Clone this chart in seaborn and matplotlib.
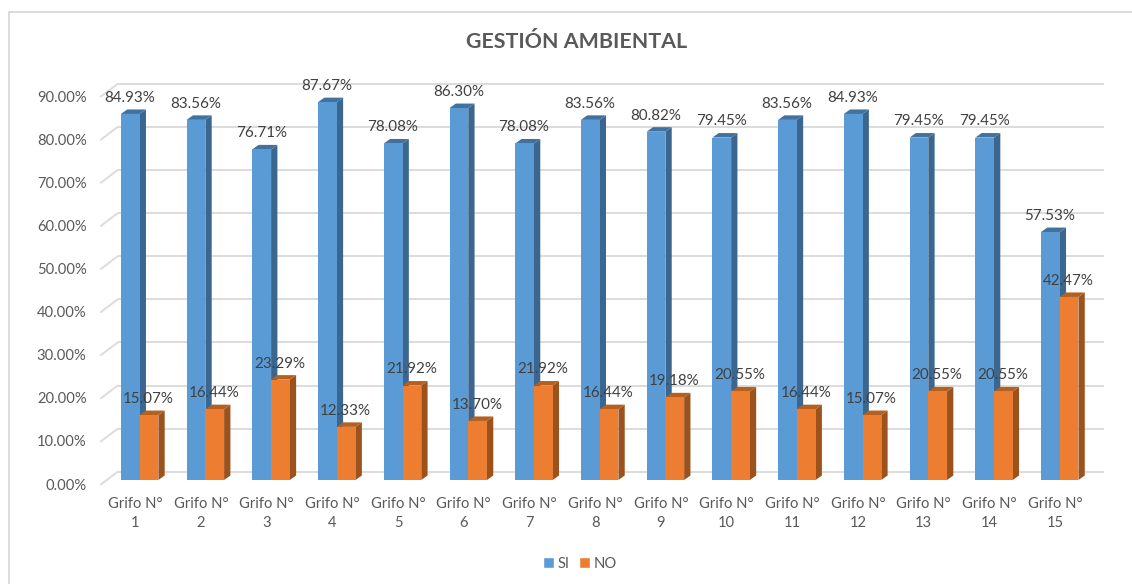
import matplotlib
matplotlib.use("Agg")
import matplotlib.pyplot as plt
import matplotlib.transforms as mtrans
from matplotlib.lines import Line2D
from matplotlib.patches import Polygon, Patch
import pandas as pd
import seaborn as sns

categories = [f"Grifo N°\n{i}" for i in range(1, 16)]
si_values = [84.93, 83.56, 76.71, 87.67, 78.08, 86.30, 78.08, 83.56, 80.82, 79.45, 83.56, 84.93, 79.45, 79.45, 57.53]
no_values = [15.07, 16.44, 23.29, 12.33, 21.92, 13.70, 21.92, 16.44, 19.18, 20.55, 16.44, 15.07, 20.55, 20.55, 42.47]
y_ticks = [0, 10, 20, 30, 40, 50, 60, 70, 80, 90]

W, H = 1132, 584
FONT = "Lato"
sns.set_theme(style="white")
plt.rcParams["font.family"] = [FONT, "DejaVu Sans"]

df = pd.DataFrame({
    "cat": categories * 2,
    "serie": ["SI"] * 15 + ["NO"] * 15,
    "val": si_values + no_values,
})

fig = plt.figure(figsize=(W / 100, H / 100), dpi=100, facecolor="white")
L, R, B, T = 106.8, 1092.6, 480.0, 92.1
ax = fig.add_axes([L / W, 1 - B / H, (R - L) / W, (B - T) / H])
ax.patch.set_alpha(0)

FRONT = {"SI": "#5b9bd5", "NO": "#ed7d31"}
TOP = {"SI": "#41719c", "NO": "#b5601f"}
SIDE = {"SI": "#3a6690", "NO": "#9b521d"}

sns.barplot(data=df, x="cat", y="val", hue="serie", palette=FRONT, hue_order=["SI", "NO"],
            width=0.57, gap=0, dodge=True, legend=False, saturation=1, ax=ax, linewidth=0)
ax.set_xlim(-0.5, 14.5)
ax.set_ylim(0, 90)
ax.set_xlabel("")
ax.set_ylabel("")
for s in ax.spines.values():
    s.set_visible(False)

px_x = 1 / 65.72       # data units per pixel horizontally
px_y = 90 / (B - T)    # data units per pixel vertically

# back wall and floor gridlines
GRID = "#dcdcdc"
for v in y_ticks:
    ax.plot([-0.5 + 11 * px_x, 14.5 + 11 * px_x], [v + 8.3 * px_y] * 2, color=GRID, lw=1.4,
            clip_on=False, zorder=1, solid_capstyle="butt")
    ax.plot([-0.5 - 6 * px_x, -0.5 + 11 * px_x], [v - 4.5 * px_y, v + 8.3 * px_y], color=GRID, lw=1.4,
            clip_on=False, zorder=1)

DX, DY = 6.3 * px_x, 4.5 * px_y
for k, (name, cont) in enumerate(zip(["SI", "NO"], ax.containers)):
    z = 2 + 2 * k
    for p in cont.patches:
        x0, x1, h = p.get_x(), p.get_x() + p.get_width(), p.get_height()
        p.set_zorder(z + 1)
        p.set_clip_on(False)
        ax.add_patch(Polygon([(x1, 0), (x1 + DX, DY), (x1 + DX, h + DY), (x1, h)], closed=True,
                             fc=SIDE[name], ec="none", zorder=z, clip_on=False))
        ax.add_patch(Polygon([(x0, h), (x0 + DX, h + DY), (x1 + DX, h + DY), (x1, h)], closed=True,
                             fc=TOP[name], ec="none", zorder=z, clip_on=False))
        ax.annotate(f"{h:.2f}%", (x0 + (x1 - x0) / 2, h), xytext=(-0.4, 11.6), textcoords="offset points",
                    ha="center", va="center", fontsize=10.9, color="#404040", zorder=10,
                    annotation_clip=False)

# axis labels
ax.set_yticks(y_ticks)
ax.set_yticklabels([f"{v:.2f}%" for v in y_ticks])
ax.tick_params(axis="y", length=0, pad=14.6, labelsize=10.6, labelcolor="#595959")
ax.tick_params(axis="x", length=0, pad=12.6, labelsize=10.6, labelcolor="#595959")
off_y = mtrans.Affine2D().translate(0, -4)
off_x = mtrans.Affine2D().translate(-4.5, 0)
for lab in ax.get_yticklabels():
    lab.set_transform(lab.get_transform() + off_y)
for lab in ax.get_xticklabels():
    lab.set_transform(lab.get_transform() + off_x)
    lab.set_linespacing(1.42)

fig.text(576.5 / W, 1 - 42.5 / H, "GESTIÓN AMBIENTAL", ha="center", va="center",
         fontsize=15.4, fontweight="bold", color="#595959")

# chart frame: top and left edges only
for xs, ys in (([9, W], [11.5, 11.5]), ([9, 9], [11.5, H])):
    fig.add_artist(Line2D([x / W for x in xs], [1 - y / H for y in ys], transform=fig.transFigure,
                          color="#d9d9d9", lw=1.3))

handles = [Patch(fc=FRONT["SI"], label="SI"), Patch(fc=FRONT["NO"], label="NO")]
fig.legend(handles=handles, loc="center", bbox_to_anchor=(580 / W, 1 - 563.5 / H), ncol=2, frameon=False,
           fontsize=10.6, handlelength=0.75, handleheight=0.75, handletextpad=0.25, columnspacing=0.65,
           labelcolor="#595959")

fig.savefig("out.png", dpi=100, facecolor="white")
